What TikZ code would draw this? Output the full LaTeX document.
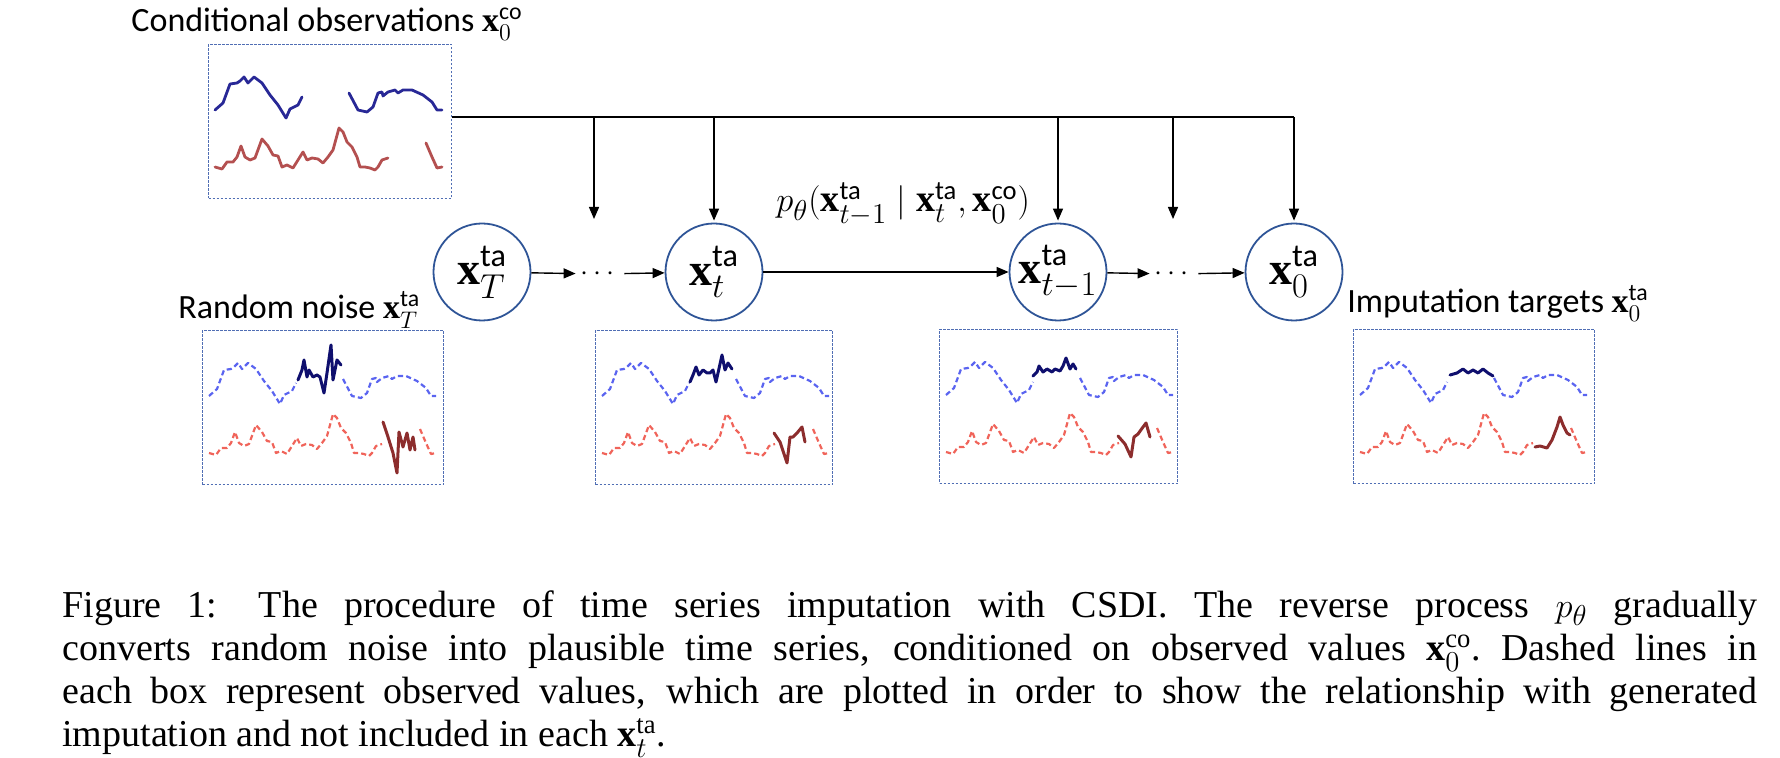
\documentclass[tikz,border=0pt]{standalone}
\usepackage{amsmath}
\usepackage{fontspec}
\setmainfont{Liberation Serif}
\newfontfamily\labfont{Carlito}
\usetikzlibrary{arrows.meta}
\definecolor{boxblue}{RGB}{80,110,180}
\definecolor{ringblue}{RGB}{47,85,151}
\definecolor{obsnavy}{RGB}{40,40,150}
\definecolor{obsred}{RGB}{180,80,80}
\definecolor{dashblue}{RGB}{90,100,240}
\definecolor{dashred}{RGB}{240,100,90}
\definecolor{impnavy}{RGB}{15,15,110}
\definecolor{impred}{RGB}{140,45,45}
\newcommand{\tasup}[1]{\text{\labfont #1}}
% observed parts of the two series (box coords, y down)
\newcommand{\serBlueA}{(7,66) -- (15,59) -- (22,40) -- (29,39) -- (32,37) -- (36,33) -- (40,39) -- (46,33) -- (54,39) -- (62,51) -- (70,61) -- (78,74) -- (82,65) -- (90,61) -- (94,53)}
\newcommand{\serBlueB}{(141,49) -- (150,66) -- (159,68) -- (165,63) -- (170,49) -- (174,48) -- (175,52) -- (180,48) -- (187,46) -- (190,49) -- (195,46) -- (204,46) -- (215,51) -- (224,58) -- (229,66) -- (234,66)}
\newcommand{\serRedA}{(7,123) -- (14,125) -- (19,118) -- (25,118) -- (29,113) -- (33,102) -- (37,113) -- (42,116) -- (47,114) -- (54,95) -- (60,102) -- (65,111) -- (70,112) -- (74,123) -- (79,121) -- (85,124) -- (90,116) -- (95,108) -- (99,116) -- (104,114) -- (110,115) -- (115,119) -- (120,113) -- (125,106) -- (131,84) -- (135,88) -- (139,98) -- (144,103) -- (149,113) -- (152,123) -- (157,123) -- (162,124) -- (167,126) -- (170,123) -- (174,116) -- (180,114)}
\newcommand{\serRedB}{(218,99) -- (224,113) -- (229,124) -- (234,123)}
\tikzset{ts/.style={draw=ringblue, line width=0.9pt, circle, minimum size=48.5pt, inner sep=0pt, font=\fontsize{23}{27}\selectfont},
  flow/.style={-{Triangle[length=6pt, width=5pt]}, line width=0.7pt},
  obs/.style={draw=boxblue, line width=0.5pt, dash pattern=on 1.2pt off 0.8pt, minimum width=120.5pt, minimum height=77pt, inner sep=0pt, anchor=north west},
  lab/.style={font=\labfont\fontsize{17}{20}\selectfont, inner sep=0pt},
  seen/.style={line width=1.4pt, line join=round, line cap=round},
  seendash/.style={line width=1.1pt, line join=round, dash pattern=on 2.6pt off 1.6pt},
  filled/.style={line width=1.5pt, line join=round, line cap=round}}

\begin{document}
\begin{tikzpicture}[x=0.5pt, y=-0.5pt]
  \useasboundingbox (0,0) rectangle (1780,758);
  % boxes
  \node[obs, minimum width=121.5pt] (cobox) at (208,44) {};
  \node[obs] (box1) at (202,330) {};
  \node[obs, minimum width=118.5pt] (box2) at (595,330) {};
  \node[obs, minimum width=119pt] (box3) at (939,329) {};
  \node[obs] (box4) at (1353,329) {};
  % conditional observations
  \begin{scope}[shift={(cobox.north west)}]
    \draw[seen, obsnavy] \serBlueA;
    \draw[seen, obsnavy] \serBlueB;
    \draw[seen, obsred] \serRedA;
    \draw[seen, obsred] \serRedB;
  \end{scope}
  % observed values, dashed, in the four lower boxes
  \foreach \bx in {box1, box2, box3, box4} {
    \begin{scope}[shift={(\bx.north west)}]
      \draw[seendash, dashblue] \serBlueA;
      \draw[seendash, dashblue] \serBlueB;
      \draw[seendash, dashred] \serRedA;
      \draw[seendash, dashred] \serRedB;
    \end{scope}
  }
  % generated imputation
  \begin{scope}[shift={(box1.north west)}]
    \draw[filled, impnavy] (96,50) -- (100,40) -- (102,30) -- (105,47) -- (107,40) -- (111,47) -- (115,45) -- (118,47) -- (122,63) -- (125,43) -- (129,15) -- (131,50) -- (135,30) -- (139,35);
    \draw[filled, impred] (181,92) -- (186,107) -- (191,123) -- (195,143) -- (197,102) -- (201,117) -- (205,103) -- (208,120) -- (211,107) -- (213,120);
  \end{scope}
  \begin{scope}[shift={(box2.north west)}]
    \draw[filled, impnavy] (95,52) -- (98,45) -- (101,37) -- (104,45) -- (108,40) -- (112,43) -- (115,43) -- (118,40) -- (121,52) -- (123,43) -- (127,25) -- (130,40) -- (133,33) -- (137,39);
    \draw[filled, impred] (179,103) -- (185,112) -- (192,133) -- (195,107) -- (198,107) -- (202,103) -- (207,97) -- (210,112);
  \end{scope}
  \begin{scope}[shift={(box3.north west)}]
    \draw[filled, impnavy] (94,47) -- (98,43) -- (100,37) -- (104,43) -- (108,40) -- (113,43) -- (116,40) -- (121,42) -- (124,37) -- (127,29) -- (131,40) -- (134,35) -- (137,40);
    \draw[filled, impred] (179,107) -- (186,115) -- (192,128) -- (195,108) -- (199,105) -- (204,98) -- (207,94) -- (211,108);
  \end{scope}
  \begin{scope}[shift={(box4.north west)}]
    \draw[filled, impnavy] (97,46) -- (104,44) -- (110,40) -- (115,44) -- (120,41) -- (125,44) -- (130,40) -- (135,44) -- (140,47);
    \draw[filled, impred] (182,118) -- (187,117) -- (194,119) -- (199,111) -- (204,98) -- (207,88) -- (210,96) -- (214,104) -- (217,106);
  \end{scope}
  % reverse chain
  \node[ts] (xT)  at (482,272)  {$\mathbf{x}_T^{\tasup{ta}}$};
  \node[ts] (xt)  at (714,272)  {$\mathbf{x}_t^{\tasup{ta}}$};
  \node[ts] (xtm) at (1058,272) {$\mathbf{x}_{t-1}^{\tasup{ta}}$};
  \node[ts] (xz)  at (1294,272) {$\mathbf{x}_0^{\tasup{ta}}$};
  \node[font=\fontsize{15}{18}\selectfont, minimum width=24pt, inner sep=0pt] (d1) at (600,274) {$\cdots$};
  \node[font=\fontsize{15}{18}\selectfont, minimum width=24pt, inner sep=0pt] (d2) at (1174,274) {$\cdots$};
  \draw[flow] (xT) -- (d1);
  \draw[flow] (d1) -- (xt);
  \draw[flow] (xt) -- (xtm);
  \draw[flow] (xtm) -- (d2);
  \draw[flow] (d2) -- (xz);
  % condition fed to every step
  \coordinate (c1) at (594,117);
  \coordinate (c2) at (714,117);
  \coordinate (c3) at (1058,117);
  \coordinate (c4) at (1173,117);
  \coordinate (c5) at (1294,117);
  \coordinate (e1) at (594,219);
  \coordinate (e4) at (1173,219);
  \draw[line width=0.7pt] (cobox.east |- c5) -- (c5);
  \draw[flow] (c1) -- (e1);
  \draw[flow, shorten >=1pt] (c2) -- (xt.north);
  \draw[flow, shorten >=1pt] (c3) -- (xtm.north);
  \draw[flow] (c4) -- (e4);
  \draw[flow, shorten >=1pt] (c5) -- (xz.north);
  % labels
  \node[lab, anchor=base] (lcond) at (327,32) {Conditional observations $\mathbf{x}_0^{\tasup{co}}$};
  \node[lab, anchor=base west] (lnoise) at (178,319) {Random noise $\mathbf{x}_T^{\tasup{ta}}$};
  \node[lab, anchor=base west] (ltarget) at (1347,313) {Imputation targets $\mathbf{x}_0^{\tasup{ta}}$};
  \node[lab, anchor=base west, font=\labfont\fontsize{19}{22}\selectfont] (lrev) at (776,212) {$p_\theta(\mathbf{x}_{t-1}^{\tasup{ta}} \mid \mathbf{x}_t^{\tasup{ta}}, \mathbf{x}_0^{\tasup{co}})$};
  % caption
  \node[anchor=north west, inner sep=0pt, text width=847.5pt, align=left, font=\fontsize{19}{21.5}\selectfont] (cap) at (62,590) {%
    \spaceskip=0.25em plus 0.6em minus 0.1em \xspaceskip=\spaceskip
    \makebox[847.5pt][s]{Figure 1:\hspace{0.4em} The procedure of time series imputation with CSDI. The reverse process $p_\theta$ gradually}\\
    \makebox[847.5pt][s]{converts random noise into plausible time series, conditioned on observed values $\mathbf{x}_0^{\mathrm{co}}$. Dashed lines in}\\
    \makebox[847.5pt][s]{each box represent observed values, which are plotted in order to show the relationship with generated}\\
    imputation and not included in each $\mathbf{x}_t^{\mathrm{ta}}$.};
\end{tikzpicture}
\end{document}
